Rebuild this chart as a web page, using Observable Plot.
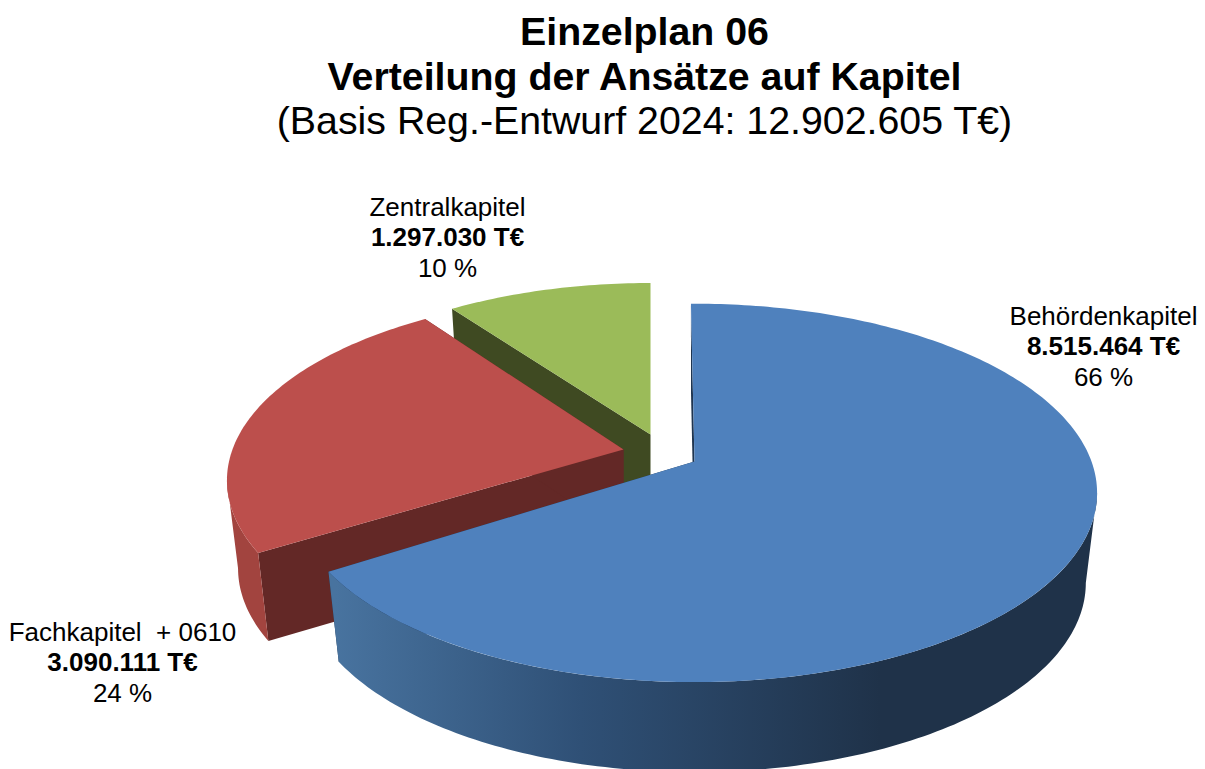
<!DOCTYPE html>
<html lang="de">
<head>
<meta charset="utf-8">
<title>Einzelplan 06</title>
<script src="https://cdn.jsdelivr.net/npm/d3@7"></script>
<script src="https://cdn.jsdelivr.net/npm/@observablehq/plot@0.6"></script>
<style>
  html, body { margin: 0; padding: 0; background: #fff; overflow: hidden; }
  #head { height: 140px; box-sizing: border-box; padding-top: 9px; width: 1289px; text-align: center;
          font-family: "Liberation Sans", Arial, sans-serif; color: #000; line-height: 44.5px; }
  #head div { white-space: nowrap; }
  .t1 { font-weight: bold; font-size: 39.3px; }
  .t2 { font-size: 39.3px; }
</style>
</head>
<body>
<div id="head">
  <div class="t1">Einzelplan 06</div>
  <div class="t1">Verteilung der Ansätze auf Kapitel</div>
  <div class="t2">(Basis Reg.-Entwurf 2024: 12.902.605 T€)</div>
</div>
<div id="chart"></div>
<script>
// Data
const categories = ["Behördenkapitel", "Fachkapitel \u00a0+ 0610", "Zentralkapitel"];
const valuesTEuro = [8515464, 3090111, 1297030];

// Styling
const topColors = ["#4f81bd", "#bc4f4c", "#9bbb59"];
const outerColors = ["url(#blueSide)", "#a2443f", "#8aa64f"];
const wallColors = ["#1f3550", "#632826", "#3f4a22"];

// Perspective disc of the 3-D pie: clockwise from 12 o'clock
const persp = 0.166, radiusX = 397, radiusY = 184, depth = 90, bottomScale = 0.972;
const layout = [
  {apexX: 694, apexY: 461, scale: 1,     rotate: -0.6, depth},
  {apexX: 623, apexY: 449, scale: 0.985, rotate: 1,    depth: 88},
  {apexX: 650, apexY: 434, scale: 0.96,  rotate: 0,    depth: 90}
];

function project(angle, s, level) {
  const u = Math.sin(angle), v = Math.cos(angle), w = 1 + persp * v;
  const k = level ? s.scale * bottomScale : s.scale;
  return {
    x: s.apexX + k * radiusX * u / w,
    y: s.apexY + (level ? s.depth : 0) - s.scale * radiusY * v / w
  };
}
function arc(a0, a1, s, level) {
  const n = Math.max(2, Math.ceil(Math.abs(a1 - a0) / (Math.PI / 180)));
  return d3.range(n + 1).map(i => project(a0 + (a1 - a0) * i / n, s, level));
}
const apex = (s, level) => ({x: s.apexX, y: s.apexY + (level ? s.depth : 0)});

const total = d3.sum(valuesTEuro);
let cumulative = 0;
const slices = valuesTEuro.map((v, i) => {
  const s = layout[i], rot = s.rotate * Math.PI / 180;
  const a0 = cumulative / total * 2 * Math.PI + rot;
  cumulative += v;
  const a1 = cumulative / total * 2 * Math.PI + rot;
  return {i, s, a0, a1};
});

function shapes({i, s, a0, a1}) {
  // silhouette angle where the disc is widest on the right side
  const right = Math.acos(-persp);
  const left = 2 * Math.PI - right;
  const marks = [];
  const poly = (pts, fill) => marks.push(Plot.line(pts, {x: "x", y: "y", fill, stroke: "none", curve: "linear-closed"}));
  // inner cut walls
  poly([project(a0, s, 0), apex(s, 0), apex(s, 1), project(a0, s, 1)], wallColors[i]);
  poly([project(a1, s, 0), apex(s, 0), apex(s, 1), project(a1, s, 1)], wallColors[i]);
  // outer rim (only the front half of the disc is visible)
  const r0 = Math.max(a0, right), r1 = Math.min(a1, left);
  if (r1 > r0) poly([...arc(r0, r1, s, 0), ...arc(r1, r0, s, 1)], outerColors[i]);
  // top face
  poly([apex(s, 0), ...arc(a0, a1, s, 0)], topColors[i]);
  return marks;
}

const defs = () => {
  const d = d3.create("svg:defs");
  const g = d.append("linearGradient").attr("id", "blueSide")
    .attr("gradientUnits", "userSpaceOnUse")
    .attr("x1", 335).attr("y1", 0).attr("x2", 880).attr("y2", 0);
  g.append("stop").attr("offset", "0").attr("stop-color", "#48739f");
  g.append("stop").attr("offset", "0.45").attr("stop-color", "#2f5076");
  g.append("stop").attr("offset", "1").attr("stop-color", "#1f3249");
  return d.node();
};

// Labels
const de = new Intl.NumberFormat("de-DE");
const labels = categories.map((name, i) => ({
  name,
  amount: de.format(valuesTEuro[i]) + " T€",
  pct: Math.round(valuesTEuro[i] / total * 100) + " %"
}));
const labelX = [1103, 122, 447];
const labelY = [316, 632, 207];
const lineGap = 30.5;
const font = {fontFamily: "Liberation Sans, Arial, sans-serif", fontSize: 26, fill: "#000", textAnchor: "middle", lineAnchor: "middle"};
const lx = (d, i) => labelX[i];

// draw back-to-front: green, red, blue
const order = [2, 1, 0];

const plot = Plot.plot({
  width: 1205, height: 629,
  margin: 0,
  x: {domain: [0, 1205], range: [0, 1205], axis: null},
  y: {domain: [140, 769], range: [0, 629], axis: null},
  marks: [
    defs,
    ...order.flatMap(i => shapes(slices[i])),
    Plot.text(labels, {...font, x: lx, y: (d, i) => labelY[i], text: "name"}),
    Plot.text(labels, {...font, x: lx, y: (d, i) => labelY[i] + lineGap, text: "amount", fontWeight: "bold"}),
    Plot.text(labels, {...font, x: lx, y: (d, i) => labelY[i] + 2 * lineGap, text: "pct"})
  ]
});
document.getElementById("chart").append(plot);
</script>
</body>
</html>
